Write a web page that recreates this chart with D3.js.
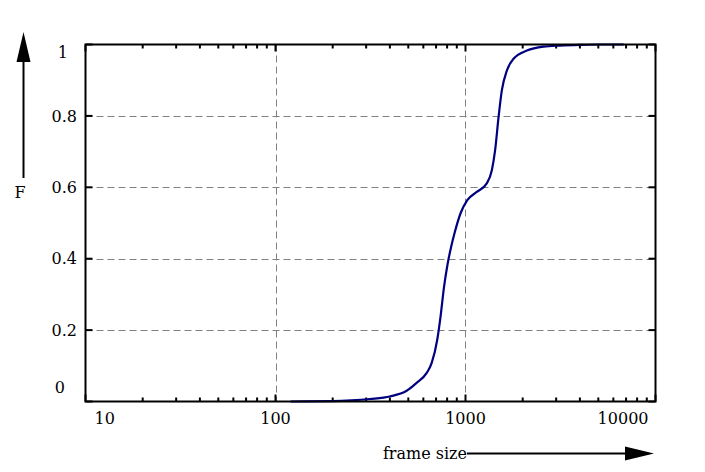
<!DOCTYPE html>
<html>
<head>
<meta charset="utf-8">
<script src="https://cdn.jsdelivr.net/npm/d3@7"></script>
<style>
  html, body { margin: 0; padding: 0; background: #fff; }
  svg { display: block; }
  text { font-family: "DejaVu Serif", "Liberation Serif", serif; font-size: 16px; fill: #000; }
</style>
</head>
<body>
<svg id="chart" width="705" height="472"></svg>
<script>
// ---- data ----
const frameSize = [120, 200, 250, 314, 400, 490, 553, 625, 664, 710, 739, 771, 805, 840, 876, 943, 1022, 1146, 1294, 1376, 1432, 1493, 1554, 1651, 1790, 2105, 2573, 3141, 4000, 5000, 6800];
const cdfF      = [0, 0.001, 0.003, 0.007, 0.014, 0.030, 0.052, 0.080, 0.108, 0.173, 0.238, 0.321, 0.385, 0.433, 0.472, 0.528, 0.564, 0.587, 0.611, 0.648, 0.704, 0.797, 0.872, 0.927, 0.960, 0.983, 0.994, 0.997, 0.999, 1.0, 1.0];
const xTickValues = [10, 100, 1000, 10000];
const xTickLabels = ["10", "100", "1000", "10000"];
const yTickValues = [0, 0.2, 0.4, 0.6, 0.8, 1];
const yTickLabels = ["0", "0.2", "0.4", "0.6", "0.8", "1"];
const xGridValues = [100, 1000];
const yGridValues = [0.2, 0.4, 0.6, 0.8];
const xTitle = "frame size";
const yTitle = "F";

// ---- layout ----
const L = 85.5, R = 655.5, T = 44.5, B = 401.5;
const svg = d3.select("#chart");
const x = d3.scaleLog().domain([10, 10000]).range([L, R]);
const y = d3.scaleLinear().domain([0, 1]).range([B, T]);

// minor tick values
const minorX = [];
for (let d = 10; d < 10000; d *= 10) for (let k = 2; k <= 9; k++) minorX.push(d * k);

// grid
const grid = svg.append("g").attr("stroke", "#808080").attr("stroke-width", 1).attr("stroke-dasharray", "7,4");
grid.selectAll("line.gx").data(xGridValues).join("line")
  .attr("x1", d => Math.round(x(d)) + 0.5).attr("x2", d => Math.round(x(d)) + 0.5)
  .attr("y1", T).attr("y2", B);
grid.selectAll("line.gy").data(yGridValues).join("line")
  .attr("y1", d => Math.round(y(d)) + 0.5).attr("y2", d => Math.round(y(d)) + 0.5)
  .attr("x1", L).attr("x2", R);

// ticks (inward) on all four sides
const tk = svg.append("g").attr("stroke", "#000").attr("stroke-width", 2);
function xt(vals, len) {
  vals.forEach(v => {
    const px = x(v);
    tk.append("line").attr("x1", px).attr("x2", px).attr("y1", B).attr("y2", B - len);
    tk.append("line").attr("x1", px).attr("x2", px).attr("y1", T).attr("y2", T + len);
  });
}
xt(minorX, 4);
xt(xTickValues, 7);
yTickValues.forEach(v => {
  const py = y(v);
  tk.append("line").attr("x1", L).attr("x2", L + 7).attr("y1", py).attr("y2", py);
  tk.append("line").attr("x1", R).attr("x2", R - 7).attr("y1", py).attr("y2", py);
});

// curve
const line = d3.line().x((d, i) => x(frameSize[i])).y(d => y(d)).curve(d3.curveMonotoneX);
svg.append("path").datum(cdfF).attr("d", line)
  .attr("fill", "none").attr("stroke", "#000080").attr("stroke-width", 2.2).attr("stroke-linejoin", "round");

// frame
svg.append("rect").attr("x", L).attr("y", T).attr("width", R - L).attr("height", B - T)
  .attr("fill", "none").attr("stroke", "#000").attr("stroke-width", 2);

// x tick labels
svg.selectAll("text.xl").data(xTickValues).join("text")
  .attr("x", (d, i) => i === 0 ? x(d) + 9 : (i === xTickValues.length - 1 ? x(d) - 7 : x(d)))
  .attr("y", 424)
  .attr("text-anchor", (d, i) => i === 0 ? "start" : (i === xTickValues.length - 1 ? "end" : "middle"))
  .text((d, i) => xTickLabels[i]);

// y tick labels
svg.selectAll("text.yl").data(yTickValues).join("text")
  .attr("x", (d, i) => i === 0 ? 65 : (i === yTickValues.length - 1 ? 68 : 77))
  .attr("y", (d, i) => i === 0 ? y(d) - 14 : (i === yTickValues.length - 1 ? y(d) + 8 : y(d)))
  .attr("dy", "0.36em")
  .attr("text-anchor", "end")
  .text((d, i) => yTickLabels[i]);

// axis arrows
const ar = svg.append("g");
ar.append("line").attr("x1", 23.5).attr("x2", 23.5).attr("y1", 178).attr("y2", 60).attr("stroke", "#000").attr("stroke-width", 2);
ar.append("path").attr("d", "M23.5,32 L16.5,62 L30.5,62 Z").attr("fill", "#000");
ar.append("text").attr("x", 20).attr("y", 198).attr("text-anchor", "middle").text(yTitle);

ar.append("line").attr("x1", 467).attr("x2", 628).attr("y1", 453.5).attr("y2", 453.5).attr("stroke", "#000").attr("stroke-width", 2);
ar.append("path").attr("d", "M654,453.5 L625,446.5 L625,460.5 Z").attr("fill", "#000");
ar.append("text").attr("x", 467).attr("y", 459).attr("text-anchor", "end").text(xTitle);
</script>
</body>
</html>
